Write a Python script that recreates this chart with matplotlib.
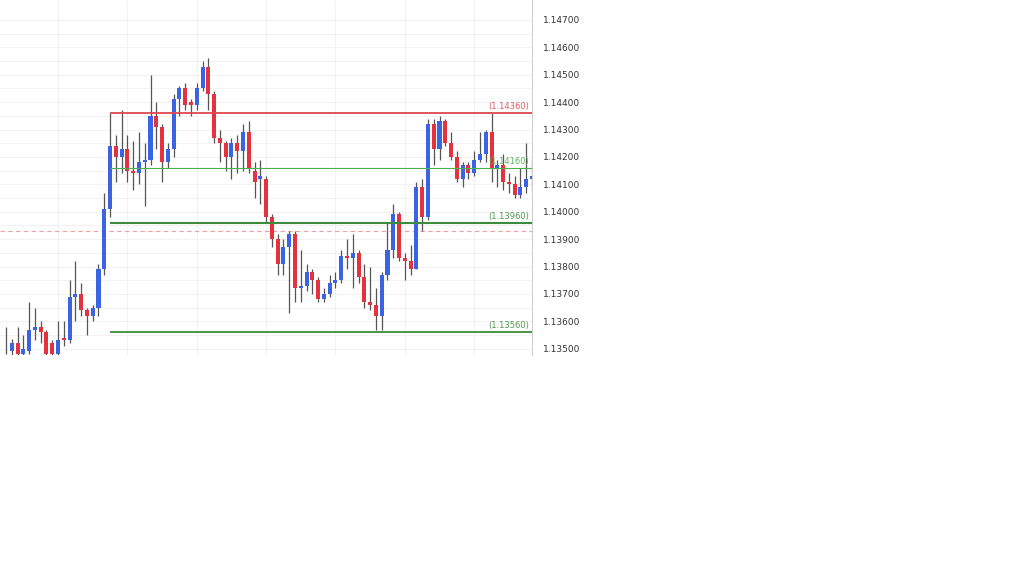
import matplotlib
matplotlib.use("Agg")
import matplotlib.pyplot as plt
from matplotlib.patches import Rectangle

opens = [1.1353,1.1349,1.1352,1.1348,1.1349,1.1357,1.1358,1.1356,1.1352,1.1348,1.1354,1.1353,1.1369,1.1370,1.1364,1.1362,1.1365,1.1379,1.1401,1.1424,
         1.1420,1.1423,1.1415,1.1414,1.1418,1.1419,1.1435,1.1431,1.1418,1.1423,1.1441,1.1445,1.1440,1.1439,1.1445,1.1453,1.1443,1.1427,1.1425,1.1420,
         1.1425,1.1422,1.1429,1.1415,1.1412,1.1412,1.1398,1.1390,1.1381,1.1387,1.1392,1.1372,1.1373,1.1378,1.1375,1.1368,1.1370,1.1374,1.1375,1.1384,
         1.1383,1.1385,1.1376,1.1367,1.1366,1.1362,1.1377,1.1386,1.1399,1.1383,1.1382,1.1379,1.1409,1.1398,1.1432,1.1423,1.1433,1.1425,1.1420,1.1412,
         1.1417,1.1414,1.1419,1.1421,1.1429,1.1416,1.1417,1.1411,1.1410,1.1406,1.1409,1.1412]
closes = [1.1353,1.1352,1.1348,1.1350,1.1357,1.1358,1.1356,1.1348,1.1348,1.1353,1.1353,1.1369,1.1370,1.1364,1.1362,1.1365,1.1379,1.1401,1.1424,1.1420,
          1.1423,1.1415,1.1414,1.1418,1.1419,1.1435,1.1431,1.1418,1.1423,1.1441,1.1445,1.1439,1.1439,1.1445,1.1453,1.1443,1.1427,1.1425,1.1420,1.1425,
          1.1422,1.1429,1.1416,1.1411,1.1413,1.1398,1.1390,1.1381,1.1387,1.1392,1.1372,1.1373,1.1378,1.1375,1.1368,1.1370,1.1374,1.1375,1.1384,1.1383,
          1.1385,1.1376,1.1367,1.1366,1.1362,1.1377,1.1386,1.1399,1.1383,1.1382,1.1379,1.1409,1.1398,1.1432,1.1423,1.1433,1.1425,1.1420,1.1412,1.1417,
          1.1414,1.1419,1.1421,1.1429,1.1416,1.1417,1.1411,1.1410,1.1406,1.1409,1.1412,1.1413]
highs = [1.1358,1.13535,1.1358,1.1355,1.1367,1.1365,1.1360,1.1357,1.1353,1.1360,1.1360,1.1375,1.1382,1.1374,1.1365,1.1366,1.1381,1.1407,1.1436,1.1428,
         1.1437,1.1428,1.1426,1.1429,1.1425,1.1450,1.1440,1.1432,1.1425,1.1443,1.1446,1.1447,1.1441,1.1447,1.1455,1.1456,1.1444,1.1430,1.1426,1.1427,
         1.1428,1.1432,1.1433,1.1418,1.1419,1.1413,1.1399,1.1392,1.1390,1.1393,1.1393,1.1386,1.1381,1.1379,1.1376,1.1372,1.1377,1.1378,1.1386,1.1390,
         1.1392,1.1386,1.1381,1.1380,1.1372,1.1378,1.1396,1.1403,1.1400,1.1385,1.1388,1.1411,1.1412,1.1434,1.1434,1.1435,1.1434,1.1429,1.1422,1.1418,
         1.1418,1.1422,1.1429,1.1430,1.1436,1.1419,1.1421,1.1414,1.1413,1.1416,1.1425,1.1419]
lows = [1.1348,1.1347,1.1347,1.1347,1.1348,1.1353,1.1352,1.1347,1.1347,1.1347,1.1351,1.1352,1.1360,1.1362,1.1355,1.1360,1.1362,1.1377,1.1398,1.1411,
        1.1414,1.1411,1.1408,1.1410,1.1402,1.1417,1.1423,1.1411,1.1416,1.1420,1.1435,1.1437,1.1435,1.1437,1.1444,1.1437,1.1425,1.1418,1.1415,1.1412,
        1.1414,1.1415,1.1414,1.1405,1.1403,1.1396,1.1387,1.1377,1.1377,1.1363,1.1367,1.1367,1.1371,1.1370,1.1367,1.1367,1.1369,1.1372,1.1374,1.1379,
        1.1372,1.1374,1.1365,1.1364,1.1357,1.1357,1.1375,1.1383,1.1382,1.1375,1.1377,1.1379,1.1393,1.1397,1.1417,1.1419,1.1424,1.1419,1.1411,1.1409,
        1.1412,1.1413,1.1418,1.1418,1.1411,1.1409,1.1408,1.1407,1.1405,1.1405,1.1407,1.1408]

levels = [1.1436, 1.1416, 1.1396, 1.1356]
level_labels = ["(1.14360)", "(1.14160)", "(1.13960)", "(1.13560)"]
level_colors = ["#e0474f", "#4caf50", "#3d8b3d", "#3d8b3d"]
level_widths = [1.3, 0.8, 1.5, 1.3]
level_start = 18
current_price = 1.1393
yticks = [1.1350,1.1360,1.1370,1.1380,1.1390,1.1400,1.1410,1.1420,1.1430,1.1440,1.1450,1.1460,1.1470]

N = len(opens)
fig = plt.figure(figsize=(10.24, 5.76), dpi=100)
ax = fig.add_axes([0, 1 - 355/576, 532/1024, 355/576])
s = (532 - 6) / (N - 1)
ax.set_xlim(-6 / s, N - 1)
ax.set_ylim(1.13477, 1.14773)

blue, red = "#3a63e6", "#e6323e"
for i in range(N):
    o, c, h, l = opens[i], closes[i], highs[i], lows[i]
    col = blue if c >= o else red
    ax.vlines(i, l, h, color="#555555", lw=0.9, zorder=2)
    lo, hi = min(o, c), max(o, c)
    ax.add_patch(Rectangle((i - 0.35, lo), 0.7, max(hi - lo, 0.00003), color=col, zorder=3, lw=0))

for lv, lab, col, w in zip(levels, level_labels, level_colors, level_widths):
    ax.hlines(lv, level_start, N - 1, color=col, lw=w, zorder=4)
    ax.text(N - 1.5, lv + 0.00007, lab, color=col, fontsize=6, ha="right", va="bottom", alpha=0.9, zorder=5)

ax.axhline(current_price, color="#f0a0a0", lw=0.8, ls=(0, (4, 3)), zorder=1)

ax.set_yticks(yticks)
ax.set_yticks([t + 0.0005 for t in yticks[:-1]], minor=True)
ax.grid(True, which="both", axis="y", color="#f0f0f0", lw=0.6)
for xi in range(9, N, 12):
    ax.axvline(xi, color="#f0f0f0", lw=0.6, zorder=0)
ax.yaxis.tick_right()
ax.set_yticklabels([f"{t:.5f}" for t in yticks], fontsize=6.5, color="#333333")
ax.tick_params(axis="y", which="both", length=0, pad=8)
ax.set_xticks([])
for sp in ["top", "left", "bottom"]:
    ax.spines[sp].set_visible(False)
ax.spines["right"].set_color("#d0d0d0")
fig.savefig("out.png", dpi=100)
